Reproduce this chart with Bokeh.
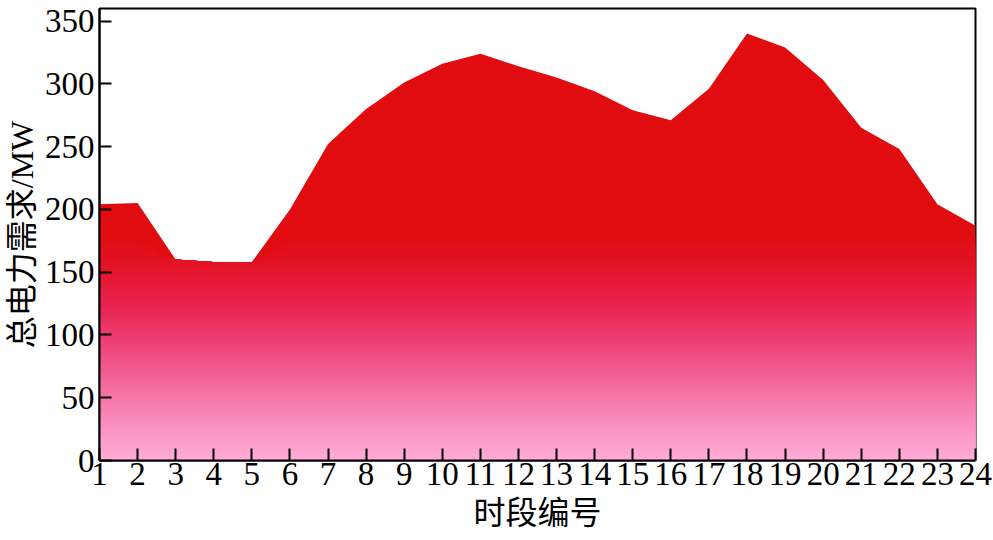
from bokeh.plotting import figure
from bokeh.models import Range1d, FixedTicker
from bokeh.embed import file_html
from bokeh.resources import INLINE

# hourly total power demand (MW)
hours = list(range(1, 25))
demand = [204, 205, 160, 158, 158, 200, 252, 280, 301, 316, 324, 314,
          305, 294, 279, 271, 296, 340, 329, 303, 265, 248, 204, 187]
x_ticks = list(range(1, 25))
y_ticks = [0, 50, 100, 150, 200, 250, 300, 350]

# vertical gradient stops (value -> rgb), red at the top, pink at the bottom
stops = [(0, (255, 172, 214)), (25, (250, 148, 196)), (50, (245, 118, 168)),
         (75, (241, 88, 140)), (100, (237, 58, 110)), (125, (233, 34, 78)),
         (150, (228, 20, 44)), (180, (224, 12, 16))]


def grad(v):
    for (v0, c0), (v1, c1) in zip(stops[:-1], stops[1:]):
        if v0 <= v <= v1:
            t = (v - v0) / (v1 - v0)
            return "#%02x%02x%02x" % tuple(int(round(a + (b - a) * t)) for a, b in zip(c0, c1))
    return "#%02x%02x%02x" % stops[-1][1]


p = figure(frame_width=876, frame_height=452, output_backend="svg", toolbar_location=None,
           x_range=Range1d(1, 24), y_range=Range1d(0, 360),
           min_border_left=99, min_border_top=8, min_border_right=17, min_border_bottom=80)

# full area in the top colour, then lower bands painted over it
p.varea(x=hours, y1=0, y2=demand, fill_color=grad(400))
for hi in range(180, 0, -3):
    p.varea(x=hours, y1=0, y2=[min(d, hi) for d in demand], fill_color=grad(hi - 1.5))

p.grid.visible = False
p.outline_line_color = "black"
p.outline_line_width = 2
p.background_fill_color = "white"
p.border_fill_color = "white"

p.xaxis.ticker = FixedTicker(ticks=x_ticks)
p.yaxis.ticker = FixedTicker(ticks=y_ticks)
for ax in (p.xaxis[0], p.yaxis[0]):
    ax.axis_line_width = 2
    ax.major_tick_line_width = 2
    ax.major_tick_in = 12
    ax.major_tick_out = 0
    ax.minor_tick_line_color = None
    ax.major_label_text_font = "Liberation Serif"
    ax.major_label_text_font_size = "33px"
    ax.major_label_text_color = "black"
    ax.axis_label_text_font = "Liberation Serif, Noto Sans CJK SC"
    ax.axis_label_text_font_size = "32px"
    ax.axis_label_text_font_style = "normal"
    ax.axis_label_text_color = "black"

p.xaxis.axis_label = "时段编号"
p.yaxis.axis_label = "总电力需求/MW"
p.xaxis.major_label_standoff = 2
p.yaxis.major_label_standoff = 5
p.xaxis.axis_label_standoff = 7
p.yaxis.axis_label_standoff = 2

open("out.html", "w").write(file_html(p, INLINE))
